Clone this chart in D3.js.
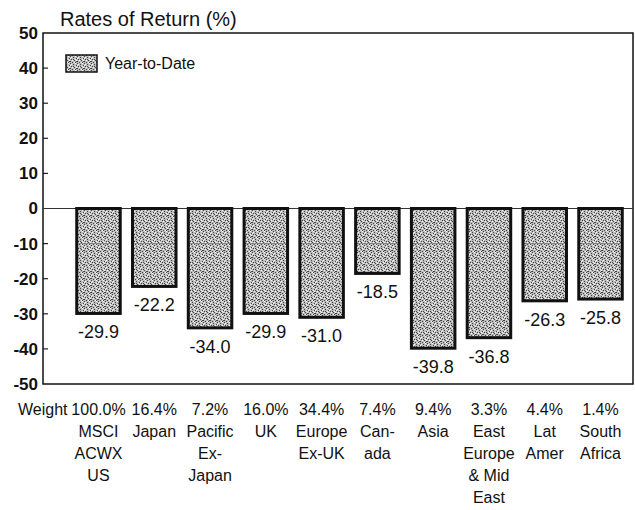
<!DOCTYPE html>
<html>
<head>
<meta charset="utf-8">
<script src="https://cdn.jsdelivr.net/npm/d3@7"></script>
<style>
  body { margin: 0; background: #fff; }
  text { font-family: 'Liberation Sans Narrow', 'Arial Narrow', 'Liberation Sans', sans-serif; fill: #111; }
</style>
</head>
<body>
<script>
// chart data
const regions = [
  ['MSCI', 'ACWX', 'US'],
  ['Japan'],
  ['Pacific', 'Ex-', 'Japan'],
  ['UK'],
  ['Europe', 'Ex-UK'],
  ['Can-', 'ada'],
  ['Asia'],
  ['East', 'Europe', '& Mid', 'East'],
  ['Lat', 'Amer'],
  ['South', 'Africa']
];
const weights = ['100.0%', '16.4%', '7.2%', '16.0%', '34.4%', '7.4%', '9.4%', '3.3%', '4.4%', '1.4%'];
const ytd = [-29.9, -22.2, -34.0, -29.9, -31.0, -18.5, -39.8, -36.8, -26.3, -25.8];
const yTicks = [50, 40, 30, 20, 10, 0, -10, -20, -30, -40, -50];

let dim = { width: 635, height: 510 };
let svg = d3.select('body').append('svg').attr('width', dim.width).attr('height', dim.height);

let plot = { left: 43, right: 633, top: 33, bottom: 384 };

// stipple texture for the bars
let defs = svg.append('defs');
let pat = defs.append('pattern')
  .attr('id', 'stipple')
  .attr('patternUnits', 'userSpaceOnUse')
  .attr('width', 7).attr('height', 7);
pat.append('rect').attr('width', 7).attr('height', 7).attr('fill', '#bcbcbc');
const darkDots = [[0,0],[3,1],[6,2],[1,3],[4,4],[2,6],[5,6],[6,5],[0,5],[3,3]];
const lightDots = [[1,1],[5,0],[2,4],[5,3],[0,2],[4,6],[6,4]];
darkDots.forEach(([dx, dy]) => {
  pat.append('rect').attr('x', dx).attr('y', dy).attr('width', 1).attr('height', 1).attr('fill', '#444');
});
lightDots.forEach(([dx, dy]) => {
  pat.append('rect').attr('x', dx).attr('y', dy).attr('width', 1).attr('height', 1).attr('fill', '#f4f4f4');
});

let names = regions.map(r => r.join(' '));
let x = d3.scaleBand()
  .domain(names)
  .range([70.6, 628.4])
  .paddingInner(0.22)
  .paddingOuter(0.11);
let y = d3.scaleLinear().domain([-50, 50]).range([plot.bottom, plot.top]);

// y axis
let axisY = d3.axisLeft(y).tickValues(yTicks).tickSize(0).tickPadding(5).tickFormat(d => String(d));
let gy = svg.append('g').attr('transform', `translate(${plot.left},0)`).call(axisY);
gy.select('.domain').remove();
gy.selectAll('text')
  .style('font-size', '17px')
  .style('font-weight', 'bold')
  .attr('fill', '#111');
// inward tick marks
svg.append('g').selectAll('line')
  .data(yTicks.filter(d => d !== 50 && d !== -50 && d !== 0))
  .join('line')
  .attr('x1', plot.left).attr('x2', plot.left + 5)
  .attr('y1', d => y(d)).attr('y2', d => y(d))
  .attr('stroke', '#222').attr('stroke-width', 1.2);

// frame
svg.append('rect')
  .attr('x', plot.left).attr('y', plot.top)
  .attr('width', plot.right - plot.left).attr('height', plot.bottom - plot.top)
  .attr('fill', 'none').attr('stroke', '#111').attr('stroke-width', 1.5);

// zero line
svg.append('line')
  .attr('x1', plot.left).attr('x2', plot.right)
  .attr('y1', y(0)).attr('y2', y(0))
  .attr('stroke', '#333').attr('stroke-width', 1.2);

// bars
let bars = svg.append('g');
bars.selectAll('rect')
  .data(ytd)
  .join('rect')
  .attr('x', (d, i) => x(names[i]))
  .attr('y', y(0))
  .attr('width', x.bandwidth())
  .attr('height', d => y(d) - y(0))
  .attr('fill', 'url(#stipple)')
  .attr('stroke', '#111')
  .attr('stroke-width', 3);

// faint -10 gridline visible inside the bars
bars.selectAll('line')
  .data(ytd)
  .join('line')
  .attr('x1', (d, i) => x(names[i]) + 2)
  .attr('x2', (d, i) => x(names[i]) + x.bandwidth() - 2)
  .attr('y1', y(-10)).attr('y2', y(-10))
  .attr('stroke', '#888').attr('stroke-width', 1);

// value labels
svg.append('g').selectAll('text')
  .data(ytd)
  .join('text')
  .attr('x', (d, i) => x(names[i]) + x.bandwidth() / 2)
  .attr('y', d => y(d) + 25)
  .attr('text-anchor', 'middle')
  .style('font-size', '18px')
  .text(d => d.toFixed(1));

// title
svg.append('text')
  .attr('x', 60).attr('y', 26)
  .style('font-size', '20px')
  .text('Rates of Return (%)');

// legend
svg.append('rect')
  .attr('x', 66).attr('y', 55).attr('width', 31).attr('height', 17)
  .attr('fill', 'url(#stipple)').attr('stroke', '#111').attr('stroke-width', 1.5);
svg.append('text')
  .attr('x', 105).attr('y', 69)
  .style('font-size', '16px')
  .text('Year-to-Date');

// category labels
let labelTop = 415;
let lineH = 22;
svg.append('text')
  .attr('x', 18).attr('y', labelTop)
  .style('font-size', '16px')
  .text('Weight');
let cat = svg.append('g').selectAll('text')
  .data(regions)
  .join('text')
  .attr('text-anchor', 'middle')
  .attr('y', labelTop)
  .style('font-size', '16px');
cat.each(function (lines, i) {
  let t = d3.select(this);
  let cx = x(names[i]) + x.bandwidth() / 2;
  t.append('tspan').attr('x', cx).attr('y', labelTop).text(weights[i]);
  lines.forEach((ln, j) => {
    t.append('tspan').attr('x', cx).attr('y', labelTop + lineH * (j + 1)).text(ln);
  });
});
</script>
</body>
</html>
